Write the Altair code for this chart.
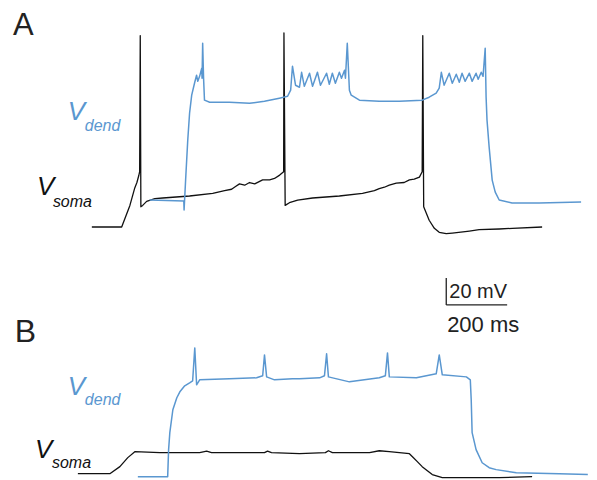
import altair as alt
import pandas as pd

BLUE = "#5a97d0"
BLACK = "#111111"

# ---------------- Panel A (time in ms, voltage in mV) ----------------
a_soma_t = [0, 98, 125, 141, 148, 154, 157, 159, 161, 167, 180, 207, 233, 321, 397, 436, 459, 472, 485, 502,
            518, 535, 561, 584, 600, 617, 630, 631, 635, 649, 676, 725, 813, 889, 928, 944, 961, 977, 1000,
            1026, 1043, 1059, 1076, 1085, 1087, 1090, 1099, 1108, 1125, 1141, 1164, 1184, 1240, 1272, 1338,
            1381, 1479]
a_soma_v = [-70, -70, -54, -41, -37, -32, -29, 72, -55, -54, -51, -49, -48.5, -47, -45, -43, -42, -40, -38, -39,
            -37, -38, -35, -35, -34, -31.5, -29, 74, -54, -52, -50, -48.5, -47, -45, -43, -41.5, -40.5, -39,
            -37.5, -37, -35, -34.5, -33, -29, 72, -55, -60, -65, -71, -74, -75, -74.5, -73, -72, -71.5,
            -71, -70]

a_dend_t = [190, 302, 303, 308, 315, 321, 328, 338, 344, 348, 354, 361, 362, 364, 367, 370, 387, 452, 518, 567,
            616, 643, 653, 659, 669, 682, 689, 698, 715, 725, 741, 751, 771, 780, 790, 800, 813, 820, 830, 833,
            839, 846, 852, 879, 944, 1010, 1085, 1108, 1131, 1141, 1148, 1157, 1174, 1184, 1197, 1207, 1216,
            1226, 1240, 1249, 1262, 1269, 1279, 1285, 1292, 1295, 1298, 1305, 1315, 1325, 1338, 1380, 1469,
            1607]
a_dend_v = [-50, -50.7, -57.4, -35.2, -5.6, 14.4, 27.8, 37.4, 42.6, 38.1, 41.8, 47.8, 40.4, 66.3, 40.4, 24.1,
            22.6, 22.6, 21.8, 23.3, 25.6, 27, 31.5, 49.3, 35.2, 33.7, 44.8, 34.4, 44.1, 34.4, 44.8, 35.2,
            44.1, 35.9, 44.1, 36.7, 44.8, 40.4, 46.3, 40.4, 66.3, 31.5, 27.8, 24.1, 23.3, 23.3, 24.1, 26.3,
            29.3, 33, 44.8, 35.2, 44.1, 36.7, 43.3, 37.4, 44.1, 38.1, 44.1, 38.1, 44.1, 39.6, 44.8, 41.8,
            62.6, 26.3, 9.3, -10.7, -35.2, -44.1, -50, -52.2, -52.2, -51.5]

# ---------------- Panel B ----------------
b_soma_t = [0, 105, 138, 164, 187, 269, 400, 423, 439, 613, 623, 636, 728, 813, 823, 836, 958, 990, 1023, 1089,
            1099, 1115, 1131, 1148, 1164, 1197, 1276, 1384, 1492]
b_soma_v = [-70, -70, -64.8, -58.1, -53.7, -54.4, -54.4, -53.3, -54.4, -54.4, -53.3, -54.4, -55.2, -54.4, -53,
            -54.4, -54.4, -53, -53.7, -55.2, -57.4, -61.1, -64.8, -67.8, -70.7, -73, -73, -73, -72.2]

b_dend_t = [197, 295, 298, 302, 312, 325, 335, 351, 367, 377, 384, 390, 400, 498, 587, 607, 613, 620, 646, 705,
            728, 794, 810, 817, 823, 892, 990, 1010, 1017, 1023, 1112, 1177, 1187, 1197, 1276, 1289, 1292,
            1295, 1308, 1328, 1351, 1374, 1440, 1581, 1675]
b_dend_v = [-72.2, -72.2, -52.2, -39.6, -22.6, -13.7, -9.3, -4.8, -2.6, -1.1, 23.3, -4.1, -0.4, 0.4, 1.1, 2.6,
            18.1, 1.8, -0.4, 0.4, 0.4, 1.1, 2.6, 18.9, 1.8, -1.9, 1.1, 2.6, 19.6, 1.8, 1.1, 4.1, 18.1, 3.3,
            1.8, -0.4, -15.2, -39.6, -52.2, -61.9, -65.6, -67, -69.3, -70, -70.7]

# Scale bar (drawn in panel B coordinates)
bar_t0 = [1210]
bar_v0 = [55.2]
bar_len_ms = [200]
bar_len_mv = [20]

# Labels
a_letter = {"t": [-259], "v": [72.2], "text": ["A"]}
b_letter = {"t": [-207], "v": [27.8], "text": ["B"]}
a_V_t, a_V_v, a_V_text = [-79, -180], [9.3, -46.3], ["V", "V"]
a_sub_t, a_sub_v, a_sub_text = [-23, -128], [1.1, -55.2], ["dend", "soma"]
b_V_t, b_V_v, b_V_text = [-33, -141], [-11.5, -58.1], ["V", "V"]
b_sub_t, b_sub_v, b_sub_text = [23, -85], [-18.9, -65.6], ["dend", "soma"]
label_colors = [BLUE, BLACK]
mv_text = {"t": [1220], "v": [60.4], "text": ["20 mV"]}
ms_text = {"t": [1213], "v": [35.2], "text": ["200 ms"]}

FONT = "Liberation Sans"

xa = alt.Scale(domain=[-275.4, 1629.7], nice=False, zero=False)
ya = alt.Scale(domain=[-93, 92.2], nice=False, zero=False)
xb = alt.Scale(domain=[-229.5, 1675.6], nice=False, zero=False)
yb = alt.Scale(domain=[-74.4, 90], nice=False, zero=False)


def line(t, v, color, xs, ys, width):
    df = pd.DataFrame({"t": t, "v": v, "i": list(range(len(t)))})
    return alt.Chart(df).mark_line(color=color, strokeWidth=width, strokeJoin="round").encode(
        x=alt.X("t:Q", scale=xs, axis=None),
        y=alt.Y("v:Q", scale=ys, axis=None),
        order=alt.Order("i:Q"),
    )


def text(df, xs, ys, size, style="normal", color=None, colorfield=False):
    kw = dict(align="left", baseline="alphabetic", fontSize=size, fontStyle=style, font=FONT)
    enc = dict(x=alt.X("t:Q", scale=xs, axis=None), y=alt.Y("v:Q", scale=ys, axis=None), text="text:N")
    if colorfield:
        enc["color"] = alt.Color("c:N", scale=None)
    else:
        kw["color"] = color
    return alt.Chart(pd.DataFrame(df)).mark_text(**kw).encode(**enc)


panel_a = alt.layer(
    line(a_soma_t, a_soma_v, BLACK, xa, ya, 1.3),
    line(a_dend_t, a_dend_v, BLUE, xa, ya, 1.5),
    text(a_letter, xa, ya, 31, color="#222222"),
    text({"t": a_V_t, "v": a_V_v, "text": a_V_text, "c": label_colors}, xa, ya, 26, "italic", colorfield=True),
    text({"t": a_sub_t, "v": a_sub_v, "text": a_sub_text, "c": label_colors}, xa, ya, 16, "italic", colorfield=True),
).properties(width=581, height=250)

bar_df = pd.DataFrame({
    "x1": [bar_t0[0], bar_t0[0]],
    "x2": [bar_t0[0], bar_t0[0] + bar_len_ms[0]],
    "y1": [bar_v0[0], bar_v0[0]],
    "y2": [bar_v0[0] + bar_len_mv[0], bar_v0[0]],
})
bar = alt.Chart(bar_df).mark_rule(color="#222222", strokeWidth=1.3).encode(
    x=alt.X("x1:Q", scale=xb, axis=None), x2="x2:Q",
    y=alt.Y("y1:Q", scale=yb, axis=None), y2="y2:Q",
)

panel_b = alt.layer(
    line(b_soma_t, b_soma_v, BLACK, xb, yb, 1.3),
    line(b_dend_t, b_dend_v, BLUE, xb, yb, 1.5),
    bar,
    text(mv_text, xb, yb, 20, color="#222222"),
    text(ms_text, xb, yb, 22, color="#222222"),
    text(b_letter, xb, yb, 32, color="#222222"),
    text({"t": b_V_t, "v": b_V_v, "text": b_V_text, "c": label_colors}, xb, yb, 26, "italic", colorfield=True),
    text({"t": b_sub_t, "v": b_sub_v, "text": b_sub_text, "c": label_colors}, xb, yb, 16, "italic", colorfield=True),
).properties(width=581, height=222)

chart = alt.vconcat(panel_a, panel_b, spacing=0).resolve_scale(
    x="independent", y="independent"
).properties(padding=0, background="white").configure_view(stroke=None)

chart.save("out.html", embed_options={"renderer": "svg", "actions": False})
